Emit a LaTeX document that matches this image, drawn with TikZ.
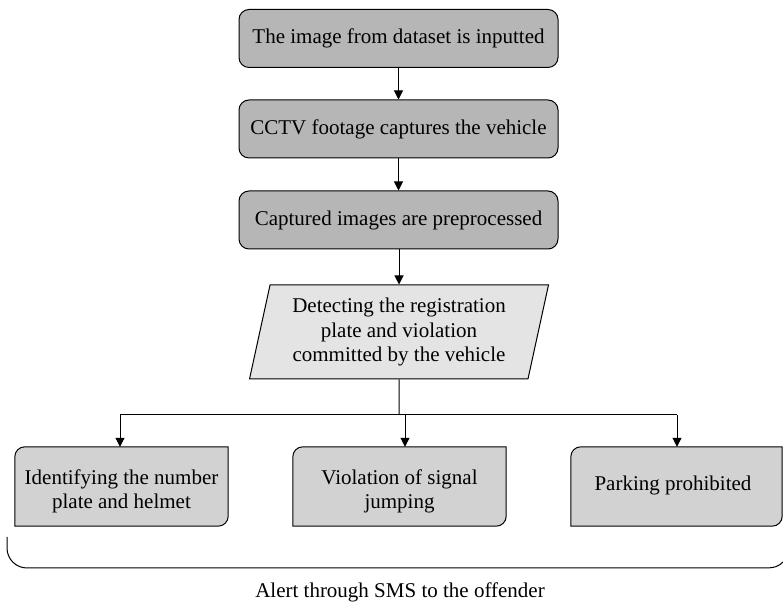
\documentclass[tikz,border=0pt]{standalone}
\usepackage{fontspec}
\setmainfont{Liberation Serif}
\usetikzlibrary{shapes.geometric,arrows.meta}
\pgfdeclarelayer{background}
\pgfsetlayers{background,main}
\definecolor{stepgray}{HTML}{B6B6B6}
\definecolor{leafgray}{HTML}{D2D2D2}
\definecolor{iogray}{HTML}{E4E4E4}
\tikzset{
  every node/.style={font=\fontsize{21}{24.5}\selectfont, inner sep=0pt},
  stepbox/.style={draw, line width=1pt, fill=stepgray, rounded corners=10pt,
    minimum width=319pt, minimum height=58pt},
  iobox/.style={draw, line width=1pt, fill=iogray, trapezium,
    trapezium left angle=76, trapezium right angle=104, trapezium stretches=true,
    minimum width=300pt, minimum height=94pt, align=center},
  leafbox/.style={minimum height=79pt},
  leaftext/.style={align=center},
  leafshape/.style={draw, line width=1pt, fill=leafgray},
  link/.style={line width=1pt, -{Triangle[length=9pt,width=9pt]}},
  plain/.style={line width=1pt}
}
\newcommand\leafoutline[1]{%
  \draw[leafshape] (#1.south west) -- ([yshift=-10pt]#1.north west)
    arc(180:90:10pt) -- (#1.north east) -- ([yshift=10pt]#1.south east)
    arc(0:-90:10pt) -- cycle;}
\begin{document}
\begin{tikzpicture}[x=1pt,y=1pt]
\useasboundingbox (0,0) rectangle (783,604);

% main chain of processing steps
\node[stepbox] (s1) at (398.5,565.5) {The image from dataset is inputted};
\node[stepbox] (s2) at (398.5,475) {CCTV footage captures the vehicle};
\node[stepbox] (s3) at (398.5,384) {Captured images are preprocessed};
\node[iobox] (det) at (399,272) {Detecting the registration\\plate and violation\\committed by the vehicle};

% the three outcomes
\node[leafbox, minimum width=213pt] (a) at (121.5,117.5) {};
\node[leafbox, minimum width=213pt] (b) at (399.5,117.5) {};
\node[leafbox, minimum width=211pt] (c) at (676.5,117.5) {};
\node[leaftext] (atext) at (121.5,112.5) {Identifying the number\\plate and helmet};
\node[leaftext] (btext) at (399.5,112.5) {Violation of signal\\jumping};
\node[leaftext] (ctext) at (673,119) {Parking prohibited};
\begin{pgfonlayer}{background}
  \leafoutline{a}
  \leafoutline{b}
  \leafoutline{c}
\end{pgfonlayer}

% connectors
\draw[link] (s1.south) -- (s2.north);
\draw[link] (s2.south) -- (s3.north);
\draw[link] (s3.south -| det.north) -- (det.north);
\coordinate (split) at (399,189);
\coordinate (ka) at (120,189);
\coordinate (kb) at (405,189);
\coordinate (kc) at (677,189);
\draw[plain] (det.south) -- (split);
\draw[plain] (ka) -- (kc);
\draw[link] (ka) -- (ka |- a.north);
\draw[link] (kb) -- (kb |- b.north);
\draw[link] (kc) -- (kc |- c.north);

% bracket grouping the outcomes
\draw[plain] (7,67) -- (7,56) arc(180:270:20pt) -- (765,36)
  .. controls (775,36) and (779,38) .. (783,42);
\node (alert) at (400,12) {Alert through SMS to the offender};
\end{tikzpicture}
\end{document}
